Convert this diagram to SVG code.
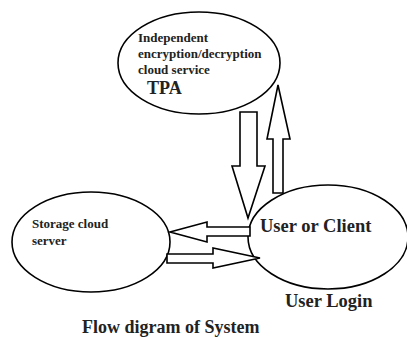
<svg xmlns="http://www.w3.org/2000/svg" width="407" height="338" viewBox="0 0 407 338">
<style>
.n{fill:none;stroke:#000;stroke-width:1.6}
.a{fill:#fff;stroke:#000;stroke-width:1.6;stroke-linejoin:miter}
text{font-family:"Liberation Serif","Times New Roman",serif;font-weight:bold;fill:#222}
.s{font-size:13px}
.l{font-size:18.5px}
</style>
<rect width="407" height="338" fill="#fff"/>
<g id="tpa">
<ellipse class="n" cx="199" cy="63" rx="81" ry="51"/>
<text class="s" x="138" y="42">Independent</text>
<text class="s" x="138" y="58">encryption/decryption</text>
<text class="s" x="138" y="74">cloud service</text>
<text x="147" y="94" font-size="18">TPA</text>
</g>
<g id="storage">
<ellipse class="n" cx="91" cy="242" rx="79" ry="50"/>
<text class="s" x="32" y="228">Storage cloud</text>
<text class="s" x="32" y="245">server</text>
</g>
<g id="user">
<ellipse class="n" cx="328" cy="237" rx="80" ry="52"/>
<text class="l" x="260" y="232">User or Client</text>
</g>
<text class="l" x="285" y="307">User Login</text>
<text x="82" y="333" font-size="18">Flow digram of System</text>
<g id="connectors">
<polygon class="a" points="240,112 257,112 257,166 265,166 248,218 232,166 240,166"/>
<polygon class="a" points="273,193 283,193 283,139 290,139 278,85 267,139 273,139"/>
<polygon class="a" points="250,227 250,236 207,236 207,242 170,232 207,222 207,227"/>
<polygon class="a" points="167,254 213,254 213,248 260,258 213,268 213,263 167,263"/>
</g>
</svg>
